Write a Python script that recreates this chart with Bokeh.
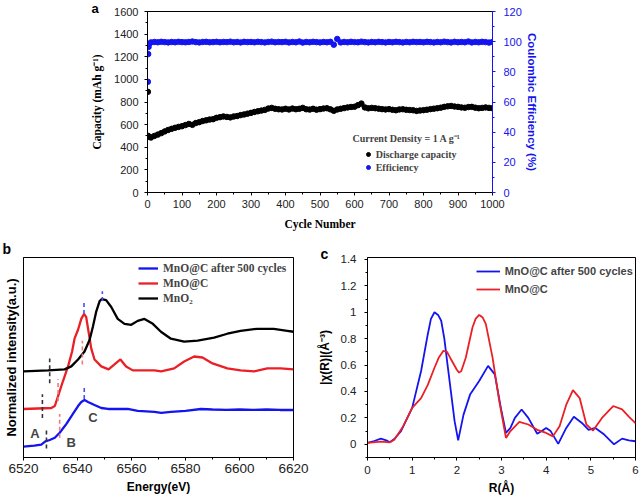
from bokeh.plotting import figure
from bokeh.layouts import column, row
from bokeh.models import (Range1d, LinearAxis, Legend, LegendItem, Label, Title,
                          SingleIntervalTicker, FixedTicker)
from bokeh.embed import file_html
from bokeh.resources import INLINE

SANS = "Liberation Sans"
SERIF = "Liberation Serif"
BLUE = "#1414f0"
RED = "#ea2026"
TXT = "#222222"

# ---------------- panel a data ----------------
cap_cycles = [1, 2, 5] + list(range(10, 1001, 10))
capacity = [890, 500, 493,
            486, 500, 512, 525, 540, 553, 563, 572, 580, 586,
            596, 606, 598, 614, 622, 632, 638, 645, 648, 660,
            666, 672, 668, 664, 672, 676, 684, 690, 697, 704,
            712, 718, 724, 730, 742, 748, 740, 736, 734, 740,
            734, 742, 736, 740, 748, 736, 733, 740, 732, 737,
            742, 745, 735, 722, 734, 740, 746, 752, 756, 758,
            772, 786, 752, 744, 748, 745, 741, 737, 734, 737,
            731, 727, 734, 736, 731, 729, 727, 721, 725, 728,
            732, 737, 741, 745, 750, 757, 762, 765, 760, 757,
            752, 749, 755, 757, 750, 745, 748, 752, 748, 745]
eff_cycles = [1, 2, 3, 5] + list(range(10, 1001, 10))
efficiency = [73.4, 91.8, 96.5, 98.6,
              99.5, 99.8, 99.6, 99.9, 99.7, 99.5, 99.8, 99.6, 99.9, 99.7,
              99.6, 99.8, 100.1, 99.7, 99.5, 99.8, 99.9, 99.6, 99.7, 99.9,
              99.6, 99.8, 99.7, 100.0, 99.6, 99.8, 99.5, 99.9, 99.7, 99.8,
              99.6, 99.9, 99.7, 99.5, 99.8, 100.0, 99.6, 99.8, 99.7, 99.9,
              99.5, 99.8, 99.6, 100.1, 99.4, 99.8, 99.6, 99.9, 99.7, 99.5,
              99.8, 99.6, 99.9, 98.0, 101.8, 99.5, 99.8, 99.6, 99.9, 99.7,
              99.6, 100.0, 99.7, 99.5, 99.8, 99.6, 99.9, 99.7, 99.5, 99.8,
              99.6, 99.9, 99.7, 99.5, 99.8, 99.6, 99.9, 99.7, 99.8, 99.6,
              99.9, 99.7, 99.5, 99.8, 99.6, 100.0, 99.7, 99.5, 99.9, 99.6,
              99.8, 99.6, 100.1, 99.5, 99.8, 99.6, 99.9, 99.7, 99.4, 99.8]

# ---------------- panel b data (XANES) ----------------
e_after = [6520, 6524, 6526.6, 6528.1, 6529.7, 6531.6, 6533.4, 6535.9, 6538.3, 6540.2,
           6541.4, 6542.6, 6543.9, 6546.3, 6548.8, 6551.3, 6555, 6558.6, 6562.3, 6568.5,
           6571, 6574.6, 6580, 6585.7, 6590, 6595, 6600, 6605, 6610, 6615, 6620]
i_after = [0.11, 0.12, 0.13, 0.163, 0.177, 0.20, 0.25, 0.34, 0.44, 0.52,
           0.56, 0.58, 0.56, 0.53, 0.50, 0.49, 0.49, 0.49, 0.47, 0.46,
           0.45, 0.46, 0.47, 0.49, 0.485, 0.48, 0.485, 0.48, 0.485, 0.48, 0.48]
e_mnoc = [6520, 6530.3, 6531.6, 6532.8, 6534.6, 6536.5, 6538.0, 6538.9, 6540.2, 6541.4,
          6542.4, 6543.2, 6544.1, 6545.1, 6546.3, 6548.8, 6551.5, 6553.7, 6555.9, 6558,
          6560.5, 6568.5, 6571, 6575.8, 6579.5, 6583.2, 6586.3, 6590, 6595.5, 6600.4,
          6605.4, 6610.3, 6615.2, 6620]
i_mnoc = [0.49, 0.50, 0.52, 0.62, 0.77, 0.92, 1.07, 1.20, 1.29, 1.40,
          1.45, 1.42, 1.27, 1.10, 0.99, 0.92, 0.89, 0.94, 0.99, 0.92,
          0.88, 0.88, 0.87, 0.90, 0.97, 1.02, 1.01, 0.95, 0.90, 0.88,
          0.87, 0.90, 0.90, 0.89]
e_mno2 = [6520, 6529.1, 6535.2, 6537.7, 6540.2, 6542.6, 6544.5, 6545.7, 6546.9, 6548.2,
          6549, 6550.6, 6552.5, 6554.9, 6557.4, 6559.9, 6562.3, 6564.8, 6567.9, 6570.9,
          6574.6, 6579.5, 6584.5, 6590.6, 6595.5, 6600.4, 6606.6, 6612.7, 6617.7, 6620]
i_mno2 = [0.87, 0.88, 0.89, 0.92, 0.99, 1.07, 1.19, 1.32, 1.47, 1.58,
          1.60, 1.59, 1.52, 1.40, 1.35, 1.34, 1.38, 1.40, 1.35, 1.27,
          1.20, 1.17, 1.18, 1.21, 1.25, 1.28, 1.30, 1.30, 1.28, 1.27]
# dashed edge markers
mark_e = [6549.2, 6542.4, 6541.8, 6529.7, 6532.8, 6527.0, 6542.5, 6533.4, 6528.5]
mark_lo = [1.58, 1.45, 0.94, 0.75, 0.57, 0.40, 0.59, 0.20, 0.09]
mark_hi = [1.68, 1.57, 1.18, 1.00, 0.79, 0.64, 0.71, 0.44, 0.30]
mark_col = ["#4a4aff", "#4a4aff", "#f07a7a", "#333333", "#f07a7a", "#333333",
            "#4a4aff", "#f07a7a", "#333333"]

# ---------------- panel c data (EXAFS) ----------------
r_after = [0, 0.15, 0.3, 0.42, 0.5, 0.6, 0.75, 1.0, 1.2, 1.35, 1.42, 1.5, 1.58, 1.65, 1.72,
           1.8, 1.95, 2.03, 2.15, 2.3, 2.5, 2.7, 2.85, 3.0, 3.1, 3.2, 3.3, 3.45, 3.6, 3.8,
           3.9, 4.0, 4.1, 4.27, 4.45, 4.62, 4.8, 4.95, 5.1, 5.3, 5.52, 5.7, 5.85, 6.0]
x_after = [0.01, 0.025, 0.043, 0.03, 0.015, 0.04, 0.10, 0.276, 0.555, 0.834, 0.95, 1.0, 0.98,
           0.936, 0.80, 0.58, 0.175, 0.03, 0.225, 0.38, 0.48, 0.594, 0.53, 0.25, 0.086,
           0.124, 0.2, 0.264, 0.2, 0.08, 0.1, 0.124, 0.1, 0.003, 0.124, 0.208, 0.162, 0.11,
           0.124, 0.074, 0.0, 0.043, 0.03, 0.023]
r_mnoc = [0, 0.3, 0.5, 0.6, 0.8, 1.0, 1.2, 1.35, 1.5, 1.6, 1.7, 1.78, 1.85, 2.0, 2.05, 2.1,
          2.2, 2.35, 2.42, 2.5, 2.58, 2.65, 2.8, 2.95, 3.1, 3.2, 3.4, 3.6, 3.8, 4.0, 4.15,
          4.3, 4.45, 4.6, 4.75, 4.9, 5.05, 5.25, 5.5, 5.7, 5.85, 6.0]
x_mnoc = [0.01, 0.02, 0.015, 0.035, 0.137, 0.276, 0.35, 0.45, 0.58, 0.66, 0.708, 0.70,
          0.656, 0.565, 0.543, 0.555, 0.656, 0.885, 0.95, 0.98, 0.96, 0.91, 0.657, 0.327,
          0.048, 0.1, 0.17, 0.15, 0.11, 0.086, 0.06, 0.137, 0.3, 0.41, 0.35, 0.15, 0.104,
          0.2, 0.29, 0.264, 0.21, 0.16]


def style_axis(ax, tick_size, tick_out=3, standoff=4, label=None, label_font=SANS,
               label_size="11px", label_standoff=5, color="black", tick_color=TXT):
    ax.axis_line_color = color
    ax.major_tick_line_color = color
    ax.minor_tick_line_color = color
    ax.major_tick_in = 0
    ax.major_tick_out = tick_out
    ax.minor_tick_in = 0
    ax.minor_tick_out = 2
    ax.major_label_text_font = SANS
    ax.major_label_text_font_size = tick_size
    ax.major_label_text_color = tick_color
    ax.major_label_standoff = standoff
    if label is not None:
        ax.axis_label = label
        ax.axis_label_text_font = label_font
        ax.axis_label_text_font_size = label_size
        ax.axis_label_text_font_style = "bold"
        ax.axis_label_text_color = color
        ax.axis_label_standoff = label_standoff


def base_fig(w, h, xr, yr, bl, br, bt, bb):
    f = figure(width=w, height=h, x_range=xr, y_range=yr, output_backend="svg",
               toolbar_location=None, title=None, min_border_left=bl, min_border_right=br,
               min_border_top=bt, min_border_bottom=bb)
    f.grid.visible = False
    f.outline_line_color = "black"
    f.outline_line_alpha = 1
    f.outline_line_width = 1
    f.background_fill_color = "white"
    f.border_fill_color = "white"
    return f


def panel_letter(fig, letter, offset, valign, standoff, size="14px"):
    t = Title(text=letter, align="left", offset=offset, vertical_align=valign,
              text_font=SANS, text_font_size=size, text_font_style="bold",
              text_color="black")
    try:
        t.standoff = standoff
    except Exception:
        t.standoff = 0
    fig.add_layout(t, "above")


# ================= panel a =================
pa = base_fig(639, 238, Range1d(0, 1000), Range1d(0, 1600), 147, 147, 11, 46)
pa.extra_y_ranges = {"eff": Range1d(0, 120)}
pa.xaxis.ticker = SingleIntervalTicker(interval=100, num_minor_ticks=2)
pa.yaxis.ticker = SingleIntervalTicker(interval=200, num_minor_ticks=2)
style_axis(pa.xaxis[0], "11px", standoff=4, label="Cycle Number", label_font=SERIF,
           label_size="11.5px", label_standoff=7)
style_axis(pa.yaxis[0], "11px", standoff=6, label="Capacity (mAh g\u207b\u00b9)",
           label_font=SERIF, label_size="11.5px", label_standoff=8)
ax_r = LinearAxis(y_range_name="eff", ticker=SingleIntervalTicker(interval=20, num_minor_ticks=2))
style_axis(ax_r, "11px", standoff=8, label="Coulombic Efficiency (%)", label_font=SANS,
           label_size="11.5px", label_standoff=1, color=BLUE, tick_color=BLUE)
pa.add_layout(ax_r, "right")

r_cap = pa.scatter(cap_cycles, capacity, size=5.5, color="black")
r_eff = pa.scatter(eff_cycles, efficiency, size=5.5, color=BLUE, y_range_name="eff")

leg_a = Legend(items=[LegendItem(label="Discharge capacity", renderers=[r_cap]),
                      LegendItem(label="Efficiency", renderers=[r_eff])],
               location=(215.7, 18.7), padding=4, spacing=1, margin=0,
               glyph_width=10, glyph_height=12, label_height=12, label_standoff=3,
               label_text_font=SERIF, label_text_font_size="10px",
               label_text_font_style="bold", border_line_color=None,
               background_fill_alpha=0)
pa.add_layout(leg_a)
pa.add_layout(Label(x=594, y=477, text="Current Density = 1 A g\u207b\u00b9", text_font=SERIF,
                    text_font_size="10px", text_font_style="bold", text_baseline="middle",
                    text_align="left"))
panel_letter(pa, "a", -56, "middle", -10, size="13px")

# ================= panel b =================
pb = base_fig(310, 261, Range1d(6520, 6620), Range1d(0, 2.02), 22, 17, 17, 42)
pb.xaxis.ticker = SingleIntervalTicker(interval=20, num_minor_ticks=2)
pb.yaxis.ticker = FixedTicker(ticks=[])
style_axis(pb.xaxis[0], "13.5px", standoff=3, label="Energy(eV)", label_size="12px",
           label_standoff=4)
style_axis(pb.yaxis[0], "13px", tick_out=0, standoff=0, label="Normalized intensity(a.u.)",
           label_size="13px", label_standoff=5)

rb1 = pb.line(e_after, i_after, color=BLUE, line_width=2.3)
rb2 = pb.line(e_mnoc, i_mnoc, color=RED, line_width=2.3)
rb3 = pb.line(e_mno2, i_mno2, color="black", line_width=2.3)
pb.segment(x0=mark_e, y0=mark_lo, x1=mark_e, y1=mark_hi, line_color=mark_col,
           line_width=1.6, line_dash="4 3")
for txt, ex, iy in [("A", 6524.2, 0.24), ("B", 6537.7, 0.15), ("C", 6545.7, 0.40)]:
    pb.add_layout(Label(x=ex, y=iy, text=txt, text_font=SANS, text_font_size="13px",
                        text_font_style="bold", text_align="center", text_baseline="middle"))
leg_b = Legend(items=[LegendItem(label="MnO@C after 500 cycles", renderers=[rb1]),
                      LegendItem(label="MnO@C", renderers=[rb2]),
                      LegendItem(label="MnO\u2082", renderers=[rb3])],
               location=(115, 152), padding=4, spacing=1, margin=0,
               glyph_width=20, glyph_height=14, label_height=14, label_standoff=5,
               label_text_font=SERIF, label_text_font_size="11.5px",
               label_text_font_style="bold", border_line_color=None,
               background_fill_alpha=0)
pb.add_layout(leg_b)
panel_letter(pb, "b", -21, "middle", -1.5)

# ================= panel c =================
pc = base_fig(329, 261, Range1d(0, 6), Range1d(-0.1, 1.415), 57, 4, 19, 42)
pc.xaxis.ticker = SingleIntervalTicker(interval=1, num_minor_ticks=2)
pc.yaxis.ticker = SingleIntervalTicker(interval=0.2, num_minor_ticks=2)
style_axis(pc.xaxis[0], "11.5px", standoff=5, label="R(\u00c5)", label_size="12px",
           label_standoff=4)
style_axis(pc.yaxis[0], "11.5px", standoff=8, label="|\u03c7(R)|(\u00c5\u207b\u00b3)",
           label_size="12px", label_standoff=6)
rc1 = pc.line(r_after, x_after, color=BLUE, line_width=1.8)
rc2 = pc.line(r_mnoc, x_mnoc, color=RED, line_width=1.8)
leg_c = Legend(items=[LegendItem(label="MnO@C after 500 cycles", renderers=[rc1]),
                      LegendItem(label="MnO@C", renderers=[rc2])],
               location=(108.7, 159.7), padding=4, spacing=2, margin=0,
               glyph_width=24, glyph_height=16, label_height=16, label_standoff=5,
               label_text_font=SANS, label_text_font_size="11px",
               label_text_font_style="bold", border_line_color=None,
               background_fill_alpha=0)
pc.add_layout(leg_c)
panel_letter(pc, "c", -47, "bottom", -8.6)

layout = column(pa, row(pb, pc))
open("out.html", "w").write(file_html(layout, INLINE))
